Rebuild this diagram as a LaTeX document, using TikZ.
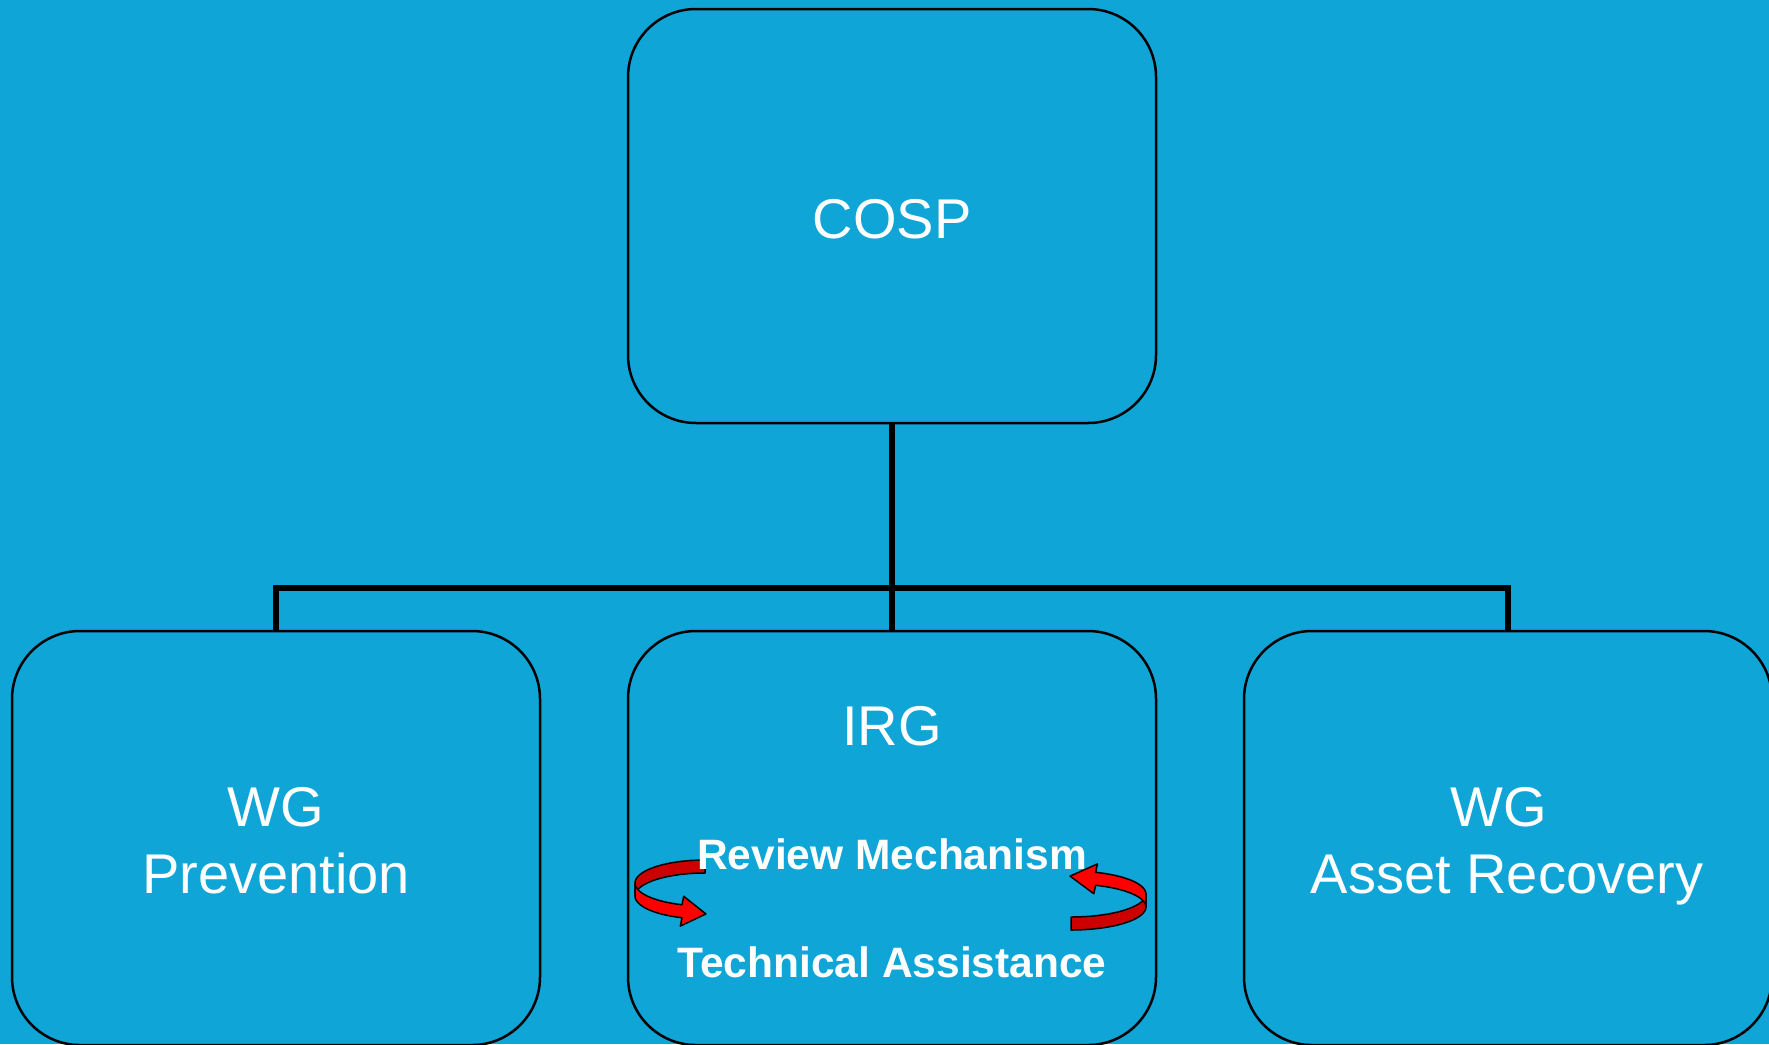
\documentclass[tikz,border=0pt]{standalone}
\usepackage{fontspec}
\setmainfont{Liberation Sans}
\definecolor{bg}{RGB}{16,165,215}
\definecolor{ribbondark}{RGB}{204,0,0}
\definecolor{ribbonbright}{RGB}{255,0,0}
\tikzset{
  box/.style={rectangle, draw=black, line width=2.5pt, rounded corners=68pt,
    minimum width=528pt, minimum height=414pt, inner sep=0pt},
  conn/.style={draw=black, line width=6pt},
  bigtxt/.style={text=white, inner sep=0pt, anchor=base, font=\fontsize{56}{67}\selectfont},
  smalltxt/.style={text=white, inner sep=0pt, anchor=base, font=\bfseries\fontsize{42.5}{51}\selectfont},
  ribbonline/.style={draw=black, line width=1.5pt, line join=round}
}
\newcommand\ribbonarrow{%
  \fill[ribbondark, ribbonline]
    plot[domain=-90:-180, samples=40, variable=\t] ({70*cos(\t)},{23*sin(\t)})
    -- plot[domain=180:270, samples=40, variable=\t] ({70*cos(\t)},{23*sin(\t)+13}) -- cycle;
  \fill[ribbonbright, ribbonline]
    plot[domain=180:109.2, samples=40, variable=\t] ({70*cos(\t)},{23*sin(\t)})
    -- (-21.3,13.3) -- (0.9,30.9) -- (-24.7,43.1)
    -- plot[domain=109.2:180, samples=40, variable=\t] ({70*cos(\t)},{23*sin(\t)+13}) -- cycle;
}
\begin{document}
\begin{tikzpicture}[x=1pt, y=-1pt]
\useasboundingbox (0,0) rectangle (1769,1044);
\clip (0,0) rectangle (1769,1044);
\fill[bg] (0,0) rectangle (1769,1044);

% boxes
\node[box] (cosp)  at (892,216) {};
\node[box] (prev)  at (276,838) {};
\node[box] (irg)   at (892,838) {};
\node[box] (asset) at (1508,838) {};

% connectors
\coordinate (junc) at (892,588);
\draw[conn] (cosp.south) -- (irg.north);
\draw[conn] (prev.north) |- (junc) -| (asset.north);

% curved arrows
\begin{scope}[shift={(705,883)}]
  \ribbonarrow
\end{scope}
\begin{scope}[shift={(1071,907)}, rotate=180, xscale=1.07]
  \ribbonarrow
\end{scope}

% texts
\node[bigtxt] (tcosp) at (892,238) {COSP};
\node[bigtxt] (twg1)  at (276,826) {WG};
\node[bigtxt] (tprev) at (276,893) {Prevention};
\node[bigtxt] (tirg)  at (892,745) {IRG};
\node[smalltxt] (trev) at (892,869) {Review Mechanism};
\node[smalltxt] (ttech) at (892,977) {Technical Assistance};
\node[bigtxt] (twg2)  at (1499,826) {WG};
\node[bigtxt] (tasset) at (1507,893) {Asset Recovery};
\end{tikzpicture}
\end{document}
